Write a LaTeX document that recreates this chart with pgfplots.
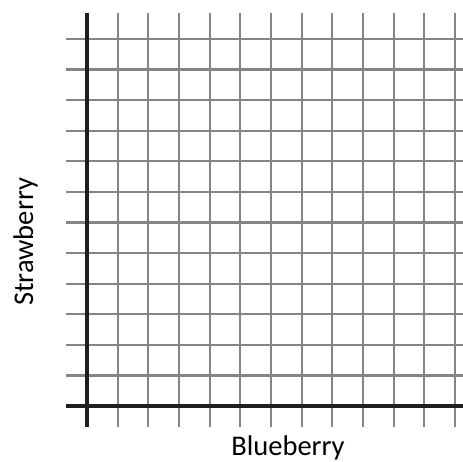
\documentclass[border=0pt]{standalone}
\usepackage{fontspec}
\setmainfont{Carlito}
\usepackage{pgfplots}
\pgfplotsset{compat=1.18}
\begin{document}
\begin{tikzpicture}
\useasboundingbox (0,0) rectangle (463pt,462pt);
\begin{axis}[
  at={(66pt,35pt)}, anchor=south west,
  scale only axis, width=397pt, height=414pt,
  xmin=-0.685, xmax=12.26, ymin=-0.687, ymax=12.85,
  xtick={1,...,12}, ytick={1,...,12},
  xticklabels={}, yticklabels={},
  major tick length=0pt,
  axis line style={draw=none},
  grid=major,
  grid style={black!48, line width=2.2pt},
  extra x ticks={0}, extra y ticks={0},
  extra x tick labels={}, extra y tick labels={},
  extra tick style={grid style={black!88, line width=3.8pt}},
  xlabel={Blueberry}, ylabel={Strawberry},
  label style={font=\fontsize{28.5}{34}\selectfont},
  xlabel style={at={(axis description cs:0.5592,-0.0700)}, anchor=base},
  ylabel style={at={(axis description cs:-0.0831,0.4469)}, anchor=base},
]
\end{axis}
\end{tikzpicture}
\end{document}
